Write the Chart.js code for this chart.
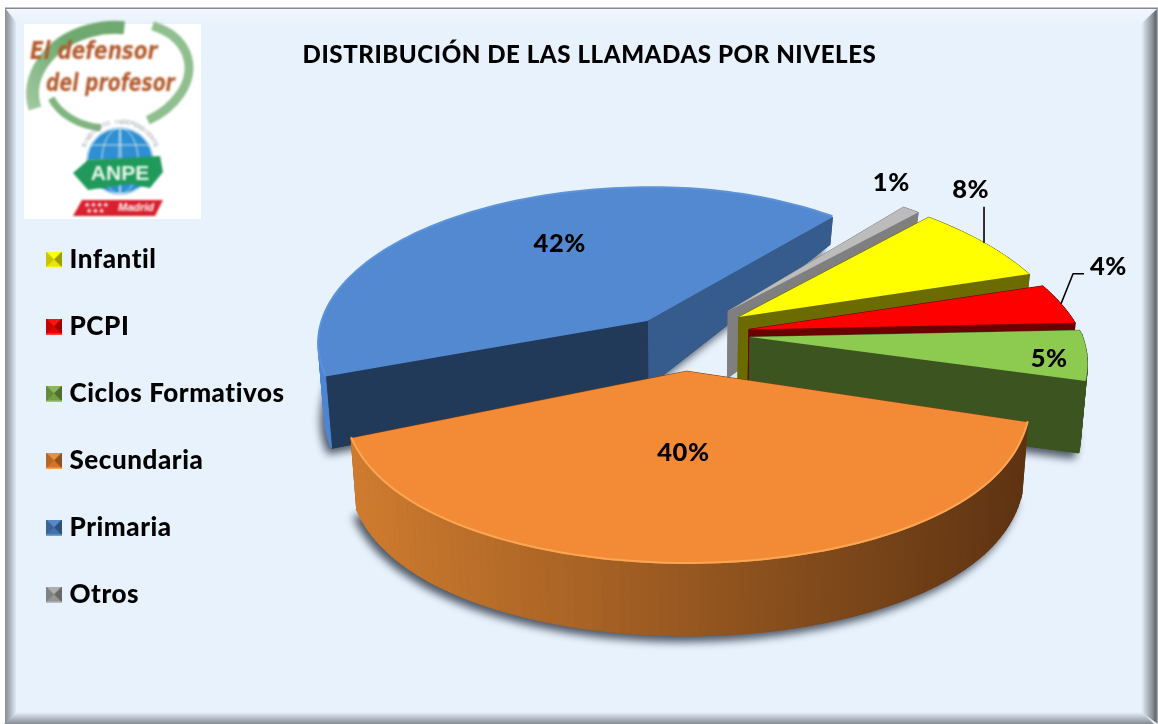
<!DOCTYPE html>
<html><head><meta charset="utf-8">
<style>html,body{margin:0;padding:0;background:#fff}canvas{display:block}</style>
<script src="https://cdn.jsdelivr.net/npm/chart.js@4"></script>
</head><body>
<canvas id="c" width="1158" height="724"></canvas>
<script>
const categories = ['Infantil','PCPI','Ciclos Formativos','Secundaria','Primaria','Otros'];
const percentValues = [8,4,5,40,42,1];
const topColors  = ['#ffff00','#ff0000','#8dcb50','#f38a36','#5389d0','#bcbcbc'];
const wallStart  = ['#6b6b00','#6b0000','#3c5520','#7a4216','#223a5a','#7f7f7f'];
const wallEnd    = ['#6b6b00','#6b0000','#3c5520','#7a4216','#355c8c','#7f7f7f'];
const rimLeft    = ['#6b6b00','#6b0000','#3c5520','#cf7c2f','#4f86d2','#7f7f7f'];
const rimRight   = ['#6b6b00','#6b0000','#3c5520','#5e3312','#4f86d2','#7f7f7f'];
const drawOrder  = [4,5,0,1,2,3];
const titleText  = 'DISTRIBUCIÓN DE LAS LLAMADAS POR NIVELES';
const FONT = 'Lato';

/* picture-plane projection of the pie */
const VIEW = {x0:684, y0:343, rx:332, k:157, p:.14, backShrink:.07, baseShrink:.983};
const groupNudge = [[6,-12,0],[8,-9,0],[8,-9,0],[0,0,7],[-4,0,0],[6,-12,0]];
const labelRadius = [1.3,1.3,.86,.42,.52,1.3];
const labelNudge = [[-77,-33],[-42,-30],[10,6],[-10,1],[2,-16],[-64,0]];

function project(U,V,n){
  const s = 1/(1-VIEW.p*V);
  const back = U>0 ? 1+VIEW.backShrink*Math.min(0,V) : 1;
  const b = (V>.18&&V<1.18) ? n[2]*Math.sin(Math.PI*(V-.18)) : 0;
  return {x:VIEW.x0+VIEW.rx*U*s*back+n[0], y:VIEW.y0+VIEW.k*V*s+b+n[1], V};
}
function depth(V){ return Math.max(0,Math.min(72,73.5+51*V)); }
function hex(c){return [1,3,5].map(i=>parseInt(c.substr(i,2),16));}
function mix(a,b,t){const A=hex(a),B=hex(b);return 'rgb('+A.map((v,i)=>Math.round(v+(B[i]-v)*t)).join(',')+')';}

function sliceGeom(el,i){
  const R = el.outerRadius, e = el.options.offset/R, mid=(el.startAngle+el.endAngle)/2;
  const ou=e*Math.cos(mid), ov=e*Math.sin(mid), n=groupNudge[i];
  const pts=[], N=Math.max(6,Math.round((el.endAngle-el.startAngle)*40));
  for(let j=0;j<=N;j++){
    const a=el.startAngle+(el.endAngle-el.startAngle)*j/N;
    pts.push(project(ou+Math.cos(a),ov+Math.sin(a),n));
  }
  return {apex:project(ou,ov,n),pts,ou,ov,mid,n};
}
function poly(ctx,list){ctx.beginPath();list.forEach((p,i)=>i?ctx.lineTo(p.x,p.y):ctx.moveTo(p.x,p.y));ctx.closePath();}
function down(p){return {x:VIEW.x0+(p.x-VIEW.x0)*VIEW.baseShrink,y:p.y+depth(p.V),V:p.V};}

const pie3d = {
  id:'pie3d',
  afterLayout(chart){
    const t=chart.titleBlock; t.left=100; t.right=1079; t.top=40.5;
    const l=chart.legend; l.left=10.5; l.top=205.5; l.right=320; l.bottom=900;
  },
  beforeDraw(chart){ drawFrame(chart.ctx); drawLogo(chart.ctx); chart.ctx.letterSpacing='0.55px'; },
  beforeDatasetsDraw(chart){
    const ctx=chart.ctx, meta=chart.getDatasetMeta(0);
    drawOrder.forEach(i=>{
      const g=sliceGeom(meta.data[i],i), outline=[g.apex,...g.pts], color=topColors[i];
      ctx.save();
      ctx.shadowColor='rgba(40,50,65,.8)';ctx.shadowBlur=9;ctx.shadowOffsetX=-4;ctx.shadowOffsetY=6;
      ctx.fillStyle=wallStart[i];poly(ctx,outline.map(down));ctx.fill();
      ctx.restore();
      const quads=[];
      const first=g.pts[0], last=g.pts[g.pts.length-1];
      const xs=g.pts.map(p=>p.x), xmin=Math.min(...xs), xmax=Math.max(...xs);
      quads.push({a:g.apex,b:first,c:wallStart[i]});
      quads.push({a:g.apex,b:last,c:wallEnd[i]});
      for(let j=0;j<g.pts.length-1;j++){
        const a=g.pts[j],b=g.pts[j+1];
        const t=Math.min(1,Math.max(0,((a.x+b.x)/2-xmin)/(xmax-xmin||1)));
        quads.push({a,b,c:mix(rimLeft[i],rimRight[i],t)});
      }
      quads.sort((q,r)=>(q.a.y+q.b.y)-(r.a.y+r.b.y));
      quads.forEach(q=>{
        ctx.fillStyle=q.c;ctx.strokeStyle=q.c;ctx.lineWidth=1;
        poly(ctx,[q.a,q.b,down(q.b),down(q.a)]);ctx.fill();ctx.stroke();
      });
      ctx.fillStyle=color;poly(ctx,outline);ctx.fill();
      if(i===3||i===4){
        ctx.strokeStyle=i===3?'#fba653':'#5c92da';ctx.lineWidth=2;ctx.lineJoin='round';
        ctx.beginPath();g.pts.forEach((p,k)=>k?ctx.lineTo(p.x,p.y-1):ctx.moveTo(p.x,p.y-1));ctx.stroke();
      }
    });
    ctx.save();
    ctx.font='900 25.5px '+FONT;ctx.fillStyle='#000';ctx.textAlign='center';ctx.textBaseline='middle';
    categories.forEach((_,i)=>{
      const el=meta.data[i],g=sliceGeom(el,i),f=labelRadius[i];
      const q=project(g.ou+f*Math.cos(g.mid),g.ov+f*Math.sin(g.mid),g.n);
      ctx.fillText(percentValues[i]+'%',q.x+labelNudge[i][0],q.y+labelNudge[i][1]);
    });
    ctx.strokeStyle='#000';ctx.lineWidth=1.6;
    [0,1].forEach(i=>{
      const el=meta.data[i],g=sliceGeom(el,i);
      const q=project(g.ou+Math.cos(g.mid),g.ov+Math.sin(g.mid),g.n);
      ctx.beginPath();ctx.moveTo(q.x,q.y);
      if(i===0){ctx.lineTo(q.x,q.y-36);}
      else{ctx.lineTo(q.x+12,q.y-30);ctx.lineTo(q.x+23,q.y-30);}
      ctx.stroke();
    });
    ctx.restore();
    return false;
  }
};

function drawFrame(ctx){
  ctx.fillStyle='#fff';ctx.fillRect(0,0,1158,724);
  ctx.fillStyle='#e8f2fd';ctx.fillRect(6,8,1152,716);
  let g=ctx.createLinearGradient(0,9,0,24);g.addColorStop(0,'#f3f6fa');g.addColorStop(1,'#e8f2fd');
  ctx.fillStyle=g;ctx.beginPath();ctx.moveTo(6,9);ctx.lineTo(1153,9);ctx.lineTo(1141,24);ctx.lineTo(24,24);ctx.closePath();ctx.fill();
  g=ctx.createLinearGradient(0,712,0,724);g.addColorStop(0,'#e8f2fd');g.addColorStop(1,'#868c94');
  ctx.fillStyle=g;ctx.beginPath();ctx.moveTo(15,712);ctx.lineTo(1142,712);ctx.lineTo(1154,724);ctx.lineTo(4,724);ctx.closePath();ctx.fill();
  g=ctx.createLinearGradient(5,0,16,0);g.addColorStop(0,'#8c9198');g.addColorStop(.3,'#9ea4ac');g.addColorStop(1,'#dfe9f6');
  ctx.fillStyle=g;ctx.beginPath();ctx.moveTo(5,8);ctx.lineTo(16,22);ctx.lineTo(16,712);ctx.lineTo(5,724);ctx.closePath();ctx.fill();
  g=ctx.createLinearGradient(1141,0,1158,0);g.addColorStop(0,'#e8f2fd');g.addColorStop(.7,'#868c94');g.addColorStop(.82,'#666b72');g.addColorStop(.9,'#70757b');g.addColorStop(1,'#b4b8bc');
  ctx.fillStyle=g;ctx.beginPath();ctx.moveTo(1158,8);ctx.lineTo(1141,24);ctx.lineTo(1141,712);ctx.lineTo(1158,724);ctx.closePath();ctx.fill();
  ctx.fillStyle='#84888d';ctx.fillRect(5,7.5,1153,1.5);
}

function drawLogo(ctx){
  ctx.save();
  ctx.fillStyle='#fff';ctx.fillRect(24,24,177,195);
  ctx.filter='blur(0.9px)';
  const arc=(cx,cy,rx,ry,rot,a,b,w,c)=>{ctx.strokeStyle=c;ctx.lineWidth=w;ctx.beginPath();ctx.ellipse(cx,cy,rx,ry,rot,a,b);ctx.stroke();};
  let grad=ctx.createLinearGradient(30,120,165,30);
  grad.addColorStop(0,'#a4cba4');grad.addColorStop(.45,'#6fa96f');grad.addColorStop(.8,'#6fa96f');grad.addColorStop(1,'#b8d8b8');
  arc(108,88,76,60,-.2,Math.PI*.97,Math.PI*1.62,13,grad);
  arc(118,76,72,52,-.25,Math.PI*1.72,Math.PI*2.42,9,'#8fbf8f');
  arc(112,76,66,52,-.1,Math.PI*.58,Math.PI*.9,7,'#7fb57f');
  ctx.textBaseline='middle';ctx.textAlign='left';
  ctx.fillStyle='#b35a2c';ctx.font='italic bold 25px "DejaVu Sans"';
  ctx.save();ctx.translate(30,52);ctx.scale(.8,1);ctx.fillText('El defensor',0,0);ctx.restore();
  ctx.save();ctx.translate(46,84);ctx.scale(.75,1);ctx.fillText('del profesor',0,0);ctx.restore();
  const gx=120,gy=161,gr=33;
  ctx.fillStyle='#2f8fd2';ctx.beginPath();ctx.arc(gx,gy,gr,0,7);ctx.fill();
  ctx.strokeStyle='#cfe6f7';ctx.lineWidth=1;
  [[gr,gr],[gr*.55,gr],[1,gr]].forEach(([rx,ry])=>{ctx.beginPath();ctx.ellipse(gx,gy,rx,ry,0,0,7);ctx.stroke();});
  [-16,0,16].forEach(d=>{const w=Math.sqrt(gr*gr-d*d);ctx.beginPath();ctx.moveTo(gx-w,gy+d);ctx.lineTo(gx+w,gy+d);ctx.stroke();});
  ctx.fillStyle='#1f9a5a';ctx.beginPath();
  ctx.moveTo(73,173);ctx.lineTo(88,160);ctx.lineTo(160,156);ctx.lineTo(163,172);ctx.lineTo(150,188);ctx.lineTo(130,184);ctx.lineTo(88,190);ctx.closePath();ctx.fill();
  ctx.fillStyle='#eef7ef';ctx.font='bold 21px "Liberation Sans"';ctx.textAlign='center';
  ctx.fillText('ANPE',120,174);
  ctx.fillStyle='#8a8f96';ctx.font='6px "Liberation Sans"';
  const s='SINDICATO INDEPENDIENTE';
  for(let k=0;k<s.length;k++){
    const a=-Math.PI/2+(k-(s.length-1)/2)*.105;
    ctx.save();ctx.translate(gx+39*Math.cos(a),gy+39*Math.sin(a));ctx.rotate(a+Math.PI/2);ctx.fillText(s[k],0,0);ctx.restore();
  }
  ctx.fillStyle='#d8202e';ctx.beginPath();ctx.moveTo(82,200);ctx.lineTo(163,200);ctx.lineTo(155,216);ctx.lineTo(73,216);ctx.closePath();ctx.fill();
  ctx.fillStyle='#fff';ctx.font='7px "DejaVu Sans"';ctx.textAlign='left';
  ctx.fillText('★★★★',84,205);ctx.fillText('★★★',86,211);
  ctx.font='italic bold 11px "Liberation Sans"';ctx.fillText('Madrid',118,208);
  ctx.restore();
}

function bevel(color){
  const c=document.createElement('canvas');c.width=16;c.height=16;
  const x=c.getContext('2d');
  const tri=(pts,col)=>{x.fillStyle=col;x.beginPath();pts.forEach((p,i)=>i?x.lineTo(p[0],p[1]):x.moveTo(p[0],p[1]));x.closePath();x.fill();};
  const o=[8,8];
  x.fillStyle=mix(color,'#000000',.15);x.fillRect(0,0,16,16);
  tri([[0,0],[16,0],o],mix(color,'#ffffff',.08));
  tri([[0,0],[0,16],o],mix(color,'#000000',.22));
  tri([[16,0],[16,16],o],mix(color,'#000000',.38));
  tri([[0,16],[16,16],o],mix(color,'#000000',.1));
  x.fillStyle=mix(color,'#ffffff',.25);x.fillRect(0,15,16,1);
  return c;
}
const legendColors=['#ffff00','#ff0000','#7fb24a','#e9842f','#4a7fc1','#a6a6a6'];

new Chart(document.getElementById('c'),{
  type:'pie',
  plugins:[pie3d],
  data:{labels:categories,datasets:[{data:percentValues,backgroundColor:topColors,borderWidth:0,offset:56}]},
  options:{
    responsive:false,animation:false,rotation:44.3,
    layout:{padding:0},
    plugins:{
      tooltip:{enabled:false},
      title:{display:true,text:titleText,color:'#000',font:{family:FONT,size:24.1,weight:'900'},padding:0},
      legend:{position:'left',align:'start',onClick:null,
        labels:{usePointStyle:true,pointStyleWidth:5,padding:41,color:'#000',font:{family:FONT,size:26,weight:'900'},
          generateLabels:()=>categories.map((t,i)=>({text:t,pointStyle:bevel(legendColors[i]),fillStyle:legendColors[i],strokeStyle:legendColors[i],lineWidth:0,hidden:false,index:i,fontColor:'#000'}))
        }
      }
    }
  }
});
</script>
</body></html>
